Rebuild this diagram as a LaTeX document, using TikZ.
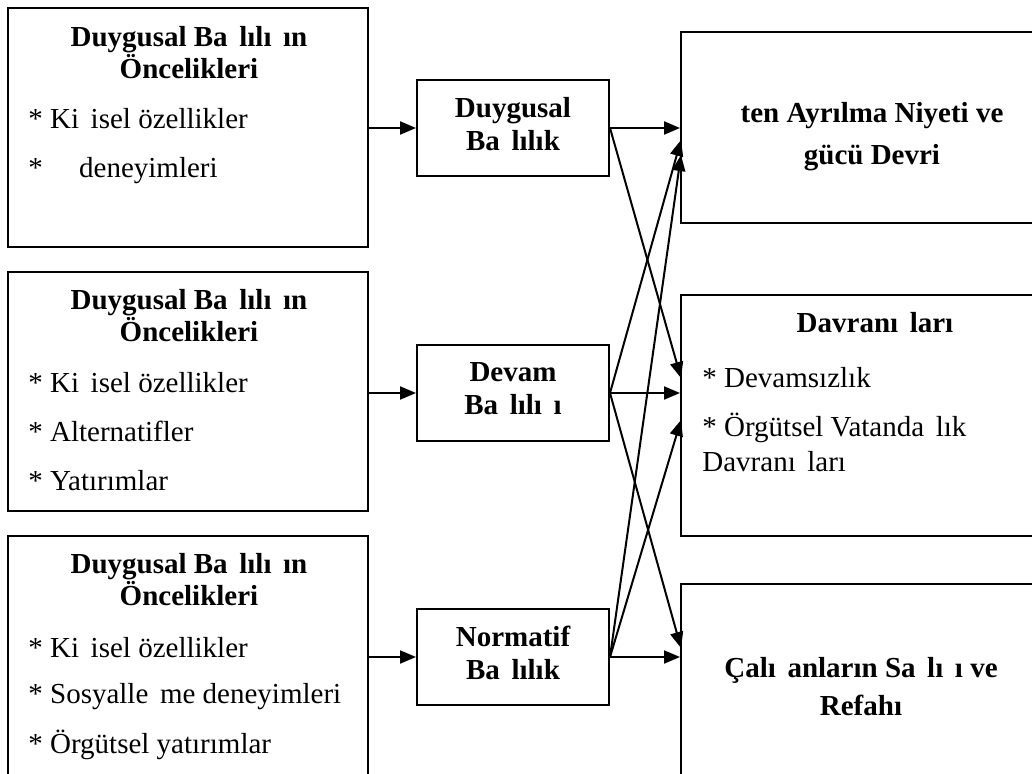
\documentclass[tikz,border=0pt]{standalone}
\usepackage{fontspec}
\setmainfont{Liberation Serif}
\usetikzlibrary{arrows.meta, positioning, calc}
\newcommand{\miss}{\hspace{.4em}}

\begin{document}
\begin{tikzpicture}[x=0.5pt, y=-0.5pt,
  font=\fontsize{14.5}{16}\selectfont,
  box/.style={draw, line width=1pt, inner sep=0pt},
  midbox/.style={box, minimum width=96pt, minimum height=48pt, text depth=4pt, align=center, font=\fontsize{14.5}{16}\selectfont\bfseries},
  arr/.style={line width=1pt, -{Triangle[length=8pt,width=6.5pt]}},
  head/.style={anchor=base, inner sep=0pt, align=center, font=\fontsize{14.5}{16}\selectfont\bfseries},
  item/.style={anchor=base west, inner sep=0pt, align=left}]
\useasboundingbox (0,0) rectangle (1032,774);
\clip (0,0) rectangle (1032,774);

% left boxes
\node[box, minimum width=180pt, minimum height=119.5pt] (onc1) at (188,127.5) {};
\node[box, minimum width=180pt, minimum height=119.5pt] (onc2) at (188,391.5) {};
\node[box, minimum width=180pt, minimum height=142pt] (onc3) at (188,678) {};
\node[head] (h1) at (189,79) {Duygusal Ba\miss lılı\miss ın\\Öncelikleri};
\node[head] (h2) at (189,342) {Duygusal Ba\miss lılı\miss ın\\Öncelikleri};
\node[head] (h3) at (189,605) {Duygusal Ba\miss lılı\miss ın\\Öncelikleri};
\node[item] (i11) at (28,129) {* Ki\miss isel özellikler};
\node[item] (i12) at (28,178) {* \hspace{.75em} deneyimleri};
\node[item] (i21) at (28,393) {* Ki\miss isel özellikler};
\node[item] (i22) at (28,442) {* Alternatifler};
\node[item] (i23) at (28,490) {* Yatırımlar};
\node[item] (i31) at (28,657) {* Ki\miss isel özellikler};
\node[item] (i32) at (28,703) {* Sosyalle\miss me deneyimleri};
\node[item] (i33) at (28,753) {* Örgütsel yatırımlar};

% middle boxes
\node[midbox] (duy) at (513,128) {Duygusal\\[0.5pt]Ba\miss lılık};
\node[midbox] (dev) at (513,393) {Devam\\[0.5pt]Ba\miss lılı\miss ı};
\node[midbox] (nor) at (513,657) {Normatif\\[0.5pt]Ba\miss lılık};

% right boxes
\node[box, minimum width=191pt, minimum height=95.5pt] (ayr) at (872,127.5) {};
\node[box, minimum width=191pt, minimum height=120.5pt] (dav) at (872,415.5) {};
\node[box, minimum width=191pt, minimum height=118pt] (sag) at (872,702) {};
\node[head] (t1) at (872,165) {ten Ayrılma Niyeti ve\\[5pt]gücü Devri};
\node[head] (t2) at (875,333) {Davranı\miss ları};
\node[item] (d1) at (702,388) {* Devamsızlık};
\node[item] (d2) at (702,472) {* Örgütsel Vatanda\miss lık\\[1.5pt]Davranı\miss ları};
\node[head] (t3) at (861,715) {Çalı\miss anların Sa\miss lı\miss ı ve\\[3pt]Refahı};

% arrow ends on the right boxes
\foreach \n/\y in {a2/140, a3/155, b1/378, b3/420, c2/648}
  \coordinate (\n) at (681,\y);

\draw[arr] (onc1.east |- duy.west) -- (duy.west);
\draw[arr] (onc2.east |- dev.west) -- (dev.west);
\draw[arr] (onc3.east |- nor.west) -- (nor.west);

\draw[arr] (duy.east) -- (ayr.west |- duy.east);
\draw[arr] (duy.east) -- (b1);
\draw[arr] (dev.east) -- (a2);
\draw[arr] (dev.east) -- (dav.west |- dev.east);
\draw[arr] (dev.east) -- (c2);
\draw[arr] (nor.east) -- (a3);
\draw[arr] (nor.east) -- (b3);
\draw[arr] (nor.east) -- (sag.west |- nor.east);
\end{tikzpicture}
\end{document}
